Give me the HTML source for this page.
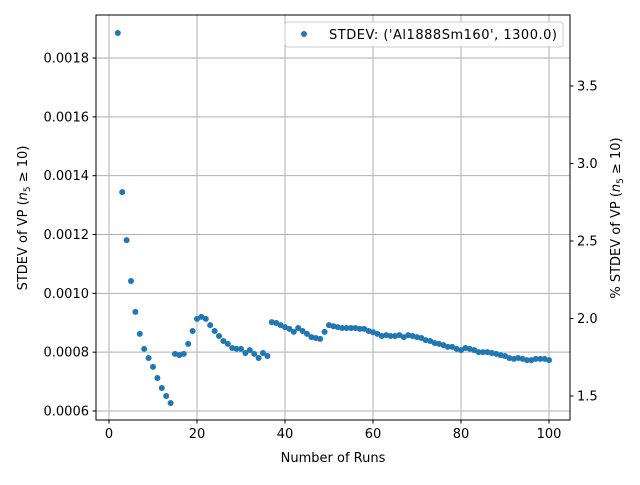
<!DOCTYPE html>
<html><head><meta charset="utf-8"><style>
body{margin:0;background:#fff;font-family:"Liberation Sans","DejaVu Sans",sans-serif;}
svg text{font-family:"DejaVu Sans","Liberation Sans",sans-serif;font-size:13px;fill:#000;}
</style></head><body>
<svg id="chart" width="640" height="480">
<g id="grid"></g>
<g id="pts"></g>
<rect x="96" y="15" width="474" height="405" fill="none" stroke="#000" stroke-width="1"/>
<g id="axes"></g>
<text x="333" y="462" text-anchor="middle">Number of Runs</text>
<text transform="translate(27,218) rotate(-90)" text-anchor="middle">STDEV of VP (<tspan font-style="italic">n</tspan><tspan font-size="9" dy="3">5</tspan><tspan dy="-3"> ≥ 10)</tspan></text>
<text transform="translate(620,218) rotate(-90)" text-anchor="middle">% STDEV of VP (<tspan font-style="italic">n</tspan><tspan font-size="9" dy="3">5</tspan><tspan dy="-3"> ≥ 10)</tspan></text>
<g>
<rect x="285" y="22" width="278" height="25" rx="3" fill="#fff" fill-opacity="0.8" stroke="#ccc"/>
<circle cx="304" cy="34" r="3" fill="#1f77b4"/>
<text x="329" y="39" textLength="228" lengthAdjust="spacing">STDEV: ('Al1888Sm160', 1300.0)</text>
</g>
</svg>
<script>
const runs=[];for(let i=2;i<=100;i++)runs.push(i);
const stdev=[0.001885,0.001344,0.001181,0.001042,0.000937,0.000862,0.000811,0.000780,0.000750,0.000712,0.000678,0.000651,0.000627,
0.000794,0.000790,0.000794,0.000828,0.000872,0.000913,0.000920,0.000913,0.000892,0.000872,0.000855,0.000838,0.000828,0.000814,0.000811,0.000811,0.000797,0.000807,0.000794,0.000780,0.000797,0.000787,
0.000902,0.000899,0.000892,0.000885,0.000879,0.000869,0.000882,0.000872,0.000862,0.000851,0.000848,0.000845,0.000869,0.000892,
0.000888,0.000885,0.000882,0.000882,0.000882,0.000882,0.000879,0.000879,0.000872,0.000868,0.000862,0.000855,0.000858,0.000855,0.000855,0.000858,0.000851,0.000858,0.000855,0.000851,0.000848,0.000841,0.000838,0.000831,0.000828,0.000824,0.000818,0.000818,0.000811,0.000807,0.000814,0.000811,0.000807,0.000800,0.000800,0.000800,0.000797,0.000794,0.000790,0.000787,0.000780,0.000777,0.000780,0.000777,0.000773,0.000773,0.000777,0.000777,0.000777,0.000773];
const xTicks=[0,20,40,60,80,100];
const yTicks=[0.0006,0.0008,0.0010,0.0012,0.0014,0.0016,0.0018];
const y2Ticks=[1.5,2.0,2.5,3.0,3.5];
const NS="http://www.w3.org/2000/svg";
const X=v=>109+v*4.4;
const Y=v=>411-(v-0.0006)/0.0002*58.83;
const Y2=v=>396-(v-1.5)/0.5*77.5;
function mk(t,a,p){const e=document.createElementNS(NS,t);for(const k in a)e.setAttribute(k,a[k]);p.appendChild(e);return e;}
const grid=document.getElementById('grid'),axes=document.getElementById('axes'),pts=document.getElementById('pts');
xTicks.forEach(v=>{const x=X(v);
const g=mk('line',{x1:x,x2:x,y1:15,y2:420,stroke:'#b0b0b0','stroke-width':1},grid);

mk('line',{x1:x,x2:x,y1:420,y2:423.5,stroke:'#000'},axes);
const t=mk('text',{x:x,y:438,'text-anchor':'middle'},axes);t.textContent=v;
});
yTicks.forEach(v=>{const y=Y(v);
const g=mk('line',{x1:96,x2:570,y1:y,y2:y,stroke:'#b0b0b0','stroke-width':1},grid);

mk('line',{x1:92.5,x2:96,y1:y,y2:y,stroke:'#000'},axes);
const t=mk('text',{x:89,y:y+4.5,'text-anchor':'end'},axes);t.textContent=v.toFixed(4);
});
y2Ticks.forEach(v=>{const y=Y2(v);
mk('line',{x1:570,x2:573.5,y1:y,y2:y,stroke:'#000'},axes);
const t=mk('text',{x:577,y:y+4.5},axes);t.textContent=v.toFixed(1);
});
runs.forEach((r,i)=>{const c=mk('circle',{cx:X(r),cy:Y(stdev[i]),r:3,fill:'#1f77b4'},pts);

});
</script>
</body></html>
